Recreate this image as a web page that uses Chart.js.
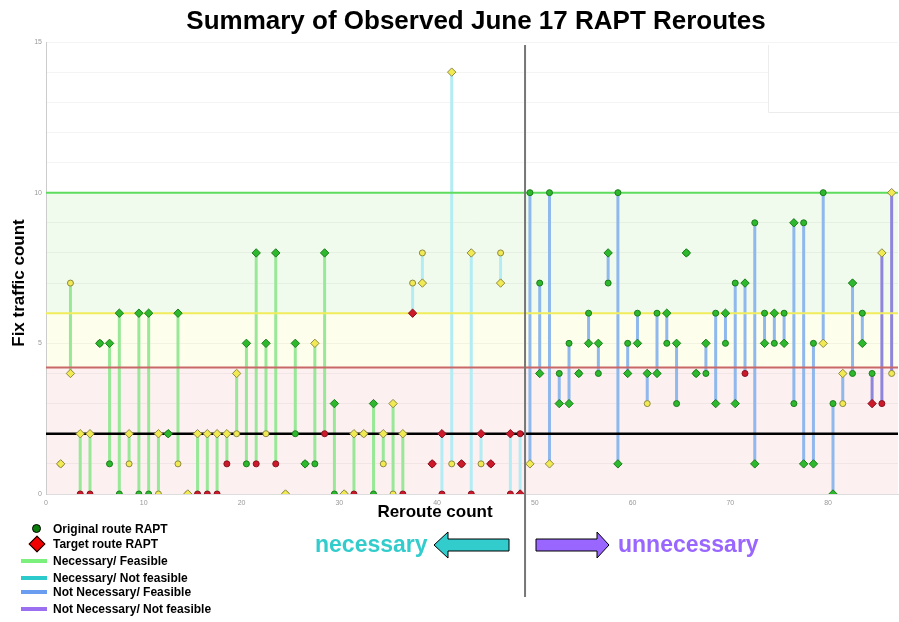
<!DOCTYPE html>
<html>
<head>
<meta charset="utf-8">
<title>RAPT Reroutes</title>
<script src="https://cdn.jsdelivr.net/npm/chart.js@4.4.0/dist/chart.umd.min.js"></script>
<style>
  body { margin: 0; background: #fff; font-family: "Liberation Sans", Arial, sans-serif; }
  #wrap { position: relative; width: 899px; height: 622px; overflow: hidden; }
  #chart { position: absolute; left: 0; top: 0; }
  .lbl { position: absolute; font-weight: bold; white-space: nowrap; color: #000; }
  #title { left: 126px; width: 700px; top: 7px; text-align: center; font-size: 26px; line-height: 26px; }
  #xtitle { left: 335px; width: 200px; top: 503px; text-align: center; font-size: 17px; line-height: 17px; }
  #ytitle { left: 18px; top: 283px; font-size: 17px; line-height: 17px; transform: translate(-50%, -50%) rotate(-90deg); }
  .leg { position: absolute; left: 53px; font-size: 12px; line-height: 14px; font-weight: bold; white-space: nowrap; }
  .swatch { position: absolute; left: 21px; width: 26px; height: 4px; }
  #dot { position: absolute; left: 32px; top: 524px; width: 9px; height: 9px; border-radius: 50%; background: #0a7d0a; border: 1px solid #000; box-sizing: border-box; }
  #dia { position: absolute; left: 31px; top: 538px; width: 12px; height: 12px; background: #f00000; border: 1px solid #000; transform: rotate(45deg); box-sizing: border-box; }
  .side { position: absolute; top: 530px; font-size: 23px; line-height: 28px; font-weight: bold; }
  #arrows { position: absolute; left: 0; top: 0; }
</style>
</head>
<body>
<div id="wrap">
  <canvas id="chart" width="899" height="622"></canvas>
  <div id="title" class="lbl">Summary of Observed June 17 RAPT Reroutes</div>
  <div id="xtitle" class="lbl">Reroute count</div>
  <div id="ytitle" class="lbl">Fix traffic count</div>

  <div id="dot"></div>
  <div id="dia"></div>
  <div class="leg" style="top:522px">Original route RAPT</div>
  <div class="leg" style="top:537px">Target route RAPT</div>
  <div class="swatch" style="top:559px;background:#7cf07c"></div>
  <div class="leg" style="top:554px">Necessary/ Feasible</div>
  <div class="swatch" style="top:576px;background:#2ccaca"></div>
  <div class="leg" style="top:571px">Necessary/ Not feasible</div>
  <div class="swatch" style="top:590px;background:#6a9cf0"></div>
  <div class="leg" style="top:585px">Not Necessary/ Feasible</div>
  <div class="swatch" style="top:607px;background:#9a70f0"></div>
  <div class="leg" style="top:602px">Not Necessary/ Not feasible</div>

  <svg id="arrows" width="899" height="622">
    <polygon points="434,545 448,532 448,539 509,539 509,551 448,551 448,558" fill="#33cccc" stroke="#000" stroke-width="1"/>
    <polygon points="609,545 597,532 597,539 536,539 536,551 597,551 597,558" fill="#9966ff" stroke="#000" stroke-width="1"/>
  </svg>
  <div class="side" style="left:315px;color:#33cccc">necessary</div>
  <div class="side" style="left:618px;color:#9966ff">unnecessary</div>
</div>

<script>
// fix counts per reroute (reroute 1..86), original route = circle, target route = diamond
var origFix = [1, 7, 0, 0, 5, 1, 0, 1, 0, 0, 0, 2, 1, 0, 0, 0, 0, 1, 2, 1,
               1, 2, 1, 0, 2, 1, 1, 2, 0, 0, 0, 2, 0, 1, 0, 0, 7, 8, 1, 0,
               1, 1, 0, 1, 1, 8, 0, 2, 10, 7, 10, 4, 5, 4, 6, 4, 7, 10, 5, 6,
               3, 6, 5, 3, 8, 4, 4, 6, 5, 7, 4, 9, 6, 5, 6, 3, 9, 5, 10, 3,
               3, 4, 6, 4, 3, 4];
var origColor = ["y","y","r","r","g","g","g","y","g","g","y","g","y","y","r","r","r","r","y","g",
                 "r","y","r","y","g","g","g","r","g","y","r","y","g","y","y","r","y","y","r","r",
                 "y","r","r","y","r","y","r","r","g","g","g","g","g","g","g","g","g","g","g","g",
                 "y","g","g","g","g","g","g","g","g","g","r","g","g","g","g","g","g","g","g","g",
                 "y","g","g","g","r","y"];
var targetFix = [1, 4, 2, 2, 5, 5, 6, 2, 6, 6, 2, 2, 6, 0, 2, 2, 2, 2, 4, 5,
                 8, 5, 8, 0, 5, 1, 5, 8, 3, 0, 2, 2, 3, 2, 3, 2, 6, 7, 1, 2,
                 14, 1, 8, 2, 1, 7, 2, 0, 1, 4, 1, 3, 3, 4, 5, 5, 8, 1, 4, 5,
                 4, 4, 6, 5, 8, 4, 5, 3, 6, 3, 7, 1, 5, 6, 5, 9, 1, 1, 5, 0,
                 4, 7, 5, 3, 8, 10];
var targetColor = ["y","y","y","y","g","g","g","y","g","g","y","g","g","y","y","y","y","y","y","g",
                   "g","g","g","y","g","g","y","g","g","y","y","y","g","y","y","y","r","y","r","r",
                   "y","r","y","r","r","y","r","r","y","g","y","g","g","g","g","g","g","g","g","g",
                   "g","g","g","g","g","g","g","g","g","g","g","g","g","g","g","g","g","g","y","g",
                   "y","g","g","r","y","y"];

// first reroute number of each route class
var classStart = [1, 37, 49, 84];
var classNames = ["Necessary/ Feasible", "Necessary/ Not feasible", "Not Necessary/ Feasible", "Not Necessary/ Not feasible"];
var classLine = ["#98e898", "#b4ecf4", "#8fb8ec", "#8f86dc"];

// horizontal reference levels
var levelValues = [10, 6, 4.2, 2];
var levelColors = ["#5ddc5d", "#f0ec5c", "#c86868", "#000000"];
var levelWidths = [2, 2, 2, 2.5];

// shaded bands (from, to)
var bandFrom = [0, 4.2, 6];
var bandTo = [4.2, 6, 10];
var bandColors = ["#fcf0f0", "#fefeec", "#f0fbee"];

var dividerAt = 49;
var xMax = 87.15;
var yMax = 15;

var fill = { g: "#2db82d", y: "#f2ea52", r: "#cc1a2a" };
var edge = { g: "#1b7d1b", y: "#8c8a44", r: "#8a1020" };

function classOf(n) {
  var k = 0;
  for (var c = 0; c < classStart.length; c++) if (n >= classStart[c]) k = c;
  return k;
}
// each reroute sits in the middle of its unit
function xOf(i) { return i + 1 + 0.5; }

var datasets = [];

// target markers (drawn on top)
datasets.push({
  label: "Target route RAPT",
  data: targetFix.map(function (v, i) { return { x: xOf(i), y: v }; }),
  showLine: false,
  pointStyle: "rectRot",
  pointRadius: 4.2,
  pointBorderWidth: 1,
  pointBackgroundColor: targetColor.map(function (c) { return fill[c]; }),
  pointBorderColor: targetColor.map(function (c) { return edge[c]; }),
  order: 0
});

// original markers
datasets.push({
  label: "Original route RAPT",
  data: origFix.map(function (v, i) { return { x: xOf(i), y: v }; }),
  showLine: false,
  pointStyle: "circle",
  pointRadius: 3,
  pointBorderWidth: 1,
  pointBackgroundColor: origColor.map(function (c) { return fill[c]; }),
  pointBorderColor: origColor.map(function (c) { return edge[c]; }),
  order: 1
});

// reference levels
levelValues.forEach(function (v, k) {
  datasets.push({
    label: "level " + v,
    data: [{ x: 0, y: v }, { x: xMax, y: v }],
    showLine: true,
    borderColor: levelColors[k],
    borderWidth: levelWidths[k],
    pointRadius: 0,
    order: 2
  });
});

// vertical connectors original -> target, one dataset per route class
classNames.forEach(function (name, k) {
  var pts = [];
  for (var i = 0; i < origFix.length; i++) {
    if (classOf(i + 1) !== k || origFix[i] === targetFix[i]) continue;
    pts.push({ x: xOf(i), y: origFix[i] }, { x: xOf(i), y: targetFix[i] }, { x: xOf(i), y: null });
  }
  datasets.push({
    label: name,
    data: pts,
    showLine: true,
    spanGaps: false,
    borderColor: classLine[k],
    borderWidth: 3,
    pointRadius: 0,
    order: 3
  });
});

// bands behind the grid, inset box, divider
var decor = {
  id: "decor",
  beforeDraw: function (chart) {
    var ctx = chart.ctx, a = chart.chartArea, y = chart.scales.y;
    ctx.save();
    ctx.fillStyle = "#fff";
    ctx.fillRect(0, 0, chart.width, chart.height);
    for (var b = 0; b < bandColors.length; b++) {
      var top = y.getPixelForValue(bandTo[b]), bot = y.getPixelForValue(bandFrom[b]);
      ctx.fillStyle = bandColors[b];
      ctx.fillRect(a.left, top, a.right - a.left, bot - top);
    }
    ctx.restore();
  },
  beforeDatasetsDraw: function (chart) {
    var ctx = chart.ctx, a = chart.chartArea;
    ctx.save();
    ctx.fillStyle = "#fff";
    ctx.fillRect(768, a.top + 1, a.right - 768 + 2, 112 - a.top);
    ctx.strokeStyle = "#ececec";
    ctx.lineWidth = 1;
    ctx.beginPath();
    ctx.moveTo(768.5, a.top + 3);
    ctx.lineTo(768.5, 112.5);
    ctx.lineTo(chart.width, 112.5);
    ctx.stroke();
    ctx.restore();
  },
  afterDraw: function (chart) {
    var ctx = chart.ctx, x = chart.scales.x.getPixelForValue(dividerAt);
    ctx.save();
    ctx.strokeStyle = "#777";
    ctx.lineWidth = 2;
    ctx.beginPath();
    ctx.moveTo(x, chart.chartArea.top + 3);
    ctx.lineTo(x, 597);
    ctx.stroke();
    ctx.restore();
  }
};

new Chart(document.getElementById("chart"), {
  type: "scatter",
  data: { datasets: datasets },
  plugins: [decor],
  options: {
    responsive: false,
    animation: false,
    layout: { autoPadding: false, padding: { top: 42, right: 1, bottom: 114, left: 0 } },
    plugins: {
      legend: { display: false },
      title: { display: false },
      tooltip: { enabled: false }
    },
    scales: {
      x: {
        type: "linear",
        min: 0,
        max: xMax,
        grid: { display: false, drawTicks: true, tickLength: 5 },
        border: { display: true, color: "#ddd" },
        ticks: { stepSize: 10, includeBounds: false, color: "#999", font: { size: 7 }, padding: 0, maxRotation: 0 },
        afterFit: function (s) { s.height = 14; s.paddingLeft = 0; s.paddingRight = 0; }
      },
      y: {
        min: 0,
        max: yMax,
        grid: {
          drawTicks: false,
          color: function (c) { return c.tick.value === 0 ? "#ddd" : "rgba(0,0,0,0.045)"; }
        },
        border: { display: true, color: "#ccc" },
        ticks: {
          stepSize: 1,
          color: "#999",
          font: { size: 7 },
          padding: 4,
          callback: function (v) { return v % 5 === 0 ? v : ""; }
        },
        afterFit: function (s) { s.width = 46; s.paddingTop = 0; s.paddingBottom = 0; }
      }
    }
  }
});
</script>
</body>
</html>
